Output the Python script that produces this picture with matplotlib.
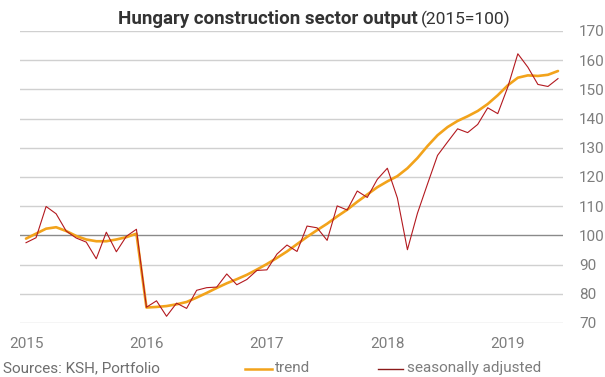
import numpy as np
import matplotlib
matplotlib.use('Agg')
import matplotlib.pyplot as plt
from matplotlib.lines import Line2D

plt.rcParams['font.family'] = ['Roboto', 'DejaVu Sans']

# monthly data, Jan 2015 - Jun 2019
trend = [98.9, 100.6, 102.3, 102.8, 101.5, 99.8, 98.6, 98.0, 98.0, 98.6, 99.4, 100.6,
         75.3, 75.5, 75.8, 76.4, 77.2, 78.7, 80.3, 82.0, 83.6, 85.0, 86.5, 88.3,
         90.2, 92.3, 94.5, 97.0, 99.5, 101.8, 104.0, 106.5, 108.8, 111.5, 114.0, 116.5,
         118.5, 120.3, 123.0, 126.5, 130.6, 134.3, 137.1, 139.2, 140.8, 142.6, 145.0, 148.0,
         151.4, 154.0, 154.8, 154.6, 155.0, 156.3]
seas_adj = [97.5, 99.2, 109.9, 107.4, 101.5, 99.1, 97.7, 92.0, 101.1, 94.4, 99.7, 102.1,
            75.4, 77.6, 72.3, 76.8, 75.0, 81.2, 82.1, 82.3, 86.8, 83.1, 84.9, 88.0,
            88.2, 93.6, 96.7, 94.5, 103.2, 102.6, 98.3, 110.1, 108.7, 115.2, 113.0, 119.2,
            123.0, 112.8, 95.1, 107.6, 117.6, 127.4, 132.0, 136.5, 135.2, 138.0, 143.7, 141.7,
            150.8, 162.2, 157.6, 151.7, 151.0, 153.7]
year_labels = ['2015', '2016', '2017', '2018', '2019']
yticks = [70, 80, 90, 100, 110, 120, 130, 140, 150, 160, 170]

orange = '#f2a31b'
red = '#b3191f'
gray_txt = '#7d7d7d'

fig = plt.figure(figsize=(6.05, 3.77), dpi=100)
ax = fig.add_axes([20/605, 1-323/377, (563-20)/605, (323-31)/377])

months = np.arange(len(trend))
ax.plot(months, trend, color=orange, lw=1.9, zorder=3, solid_capstyle='round')
ax.plot(months, seas_adj, color=red, lw=0.8, zorder=4)

ax.set_xlim(-0.6, 53.5)
ax.set_ylim(70, 170)
for v in yticks:
    ax.axhline(v, color='#8a8a8a' if v == 100 else '#d0d0d0', lw=1.0, zorder=1)

ax.set_yticks(yticks)
ax.yaxis.tick_right()
ax.set_xticks(np.arange(0, 49, 12))
ax.set_xticklabels(year_labels)
ax.tick_params(axis='y', length=0, pad=11.5, labelsize=11, labelcolor=gray_txt)
ax.tick_params(axis='x', length=0, pad=10, labelsize=11, labelcolor=gray_txt)
for s in ax.spines.values():
    s.set_visible(False)

# title
fig.text(418/605, 1-19/377, 'Hungary construction sector output', ha='right', va='center',
         fontsize=13.5, fontweight='bold', color='#333333')
fig.text(421/605, 1-19/377, '(2015=100)', ha='left', va='center',
         fontsize=12.5, color='#333333')

# source + legend
fig.text(3/605, 1-368/377, 'Sources: KSH, Portfolio', ha='left', va='center',
         fontsize=11, color='#6e6e6e')
fig.add_artist(Line2D([245/605, 272/605], [1-369/377]*2, color=orange, lw=1.8,
                      transform=fig.transFigure))
fig.text(275/605, 1-368/377, 'trend', ha='left', va='center', fontsize=11, color=gray_txt)
fig.add_artist(Line2D([378/605, 403/605], [1-369/377]*2, color='#8b1a1a', lw=1.0,
                      transform=fig.transFigure))
fig.text(407/605, 1-368/377, 'seasonally adjusted', ha='left', va='center',
         fontsize=11, color=gray_txt)

fig.savefig('out.png', dpi=100)
